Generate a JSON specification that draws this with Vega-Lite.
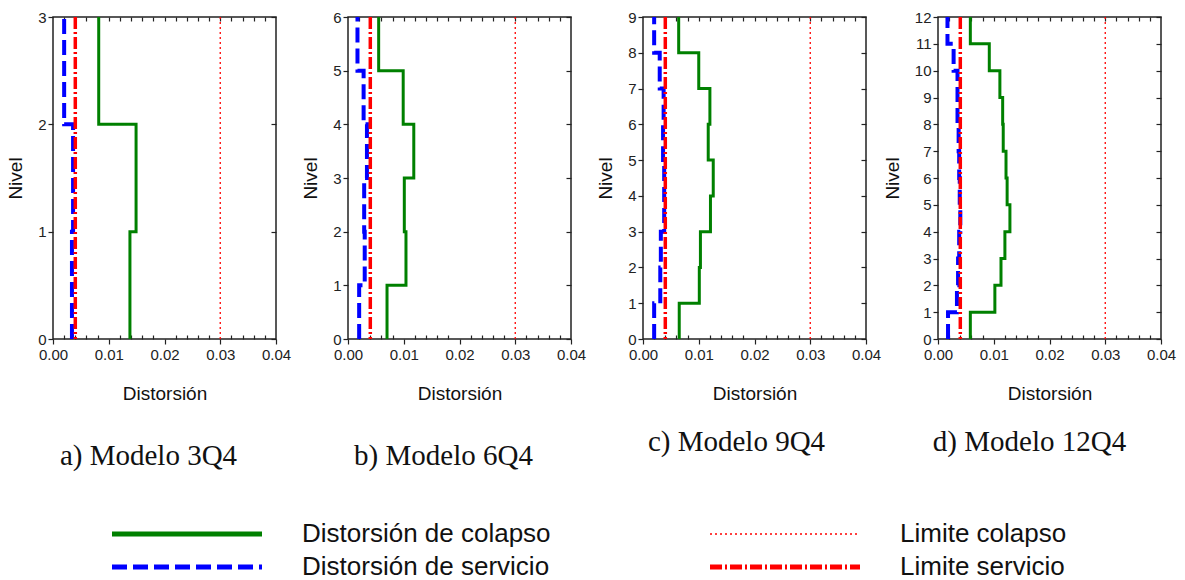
{
  "$schema": "https://vega.github.io/schema/vega-lite/v6.json",
  "background": "white",
  "padding": {"left": 5, "top": 8, "right": 5, "bottom": 5},
  "config": {
    "view": {"stroke": "#222", "strokeWidth": 1.5},
    "scale": {"continuousPadding": 0},
    "axis": {"labelFont": "Liberation Sans", "labelFontSize": 15, "labelColor": "#222", "labelFlush": false, "labelOverlap": false, "titleFont": "Liberation Sans", "titleFontSize": 19, "titleFontWeight": "normal", "titleColor": "#111", "tickColor": "#222", "tickWidth": 1.2, "domain": false, "grid": false},
    "title": {"font": "Liberation Serif", "fontSize": 29, "fontWeight": "normal", "color": "#111"},
    "legend": {"title": null, "columns": 2, "columnPadding": 159, "rowPadding": 3, "clipHeight": 30, "symbolType": "stroke", "symbolSize": 22500, "symbolOffset": 62, "labelFont": "Liberation Sans", "labelFontSize": 26, "labelColor": "#111", "labelOffset": 102, "labelLimit": 500}
  },
  "datasets": {
    "m3": [
      {"serie": "Distorsión de colapso", "nivel": 0, "drift": 0.0138},
      {"serie": "Distorsión de colapso", "nivel": 1, "drift": 0.0149},
      {"serie": "Distorsión de colapso", "nivel": 2, "drift": 0.0082},
      {"serie": "Distorsión de colapso", "nivel": 3, "drift": 0.0082},
      {"serie": "Distorsión de servicio", "nivel": 0, "drift": 0.0034},
      {"serie": "Distorsión de servicio", "nivel": 1, "drift": 0.0036},
      {"serie": "Distorsión de servicio", "nivel": 2, "drift": 0.0020},
      {"serie": "Distorsión de servicio", "nivel": 3, "drift": 0.0020}
    ],
    "m6": [
      {"serie": "Distorsión de colapso", "nivel": 0, "drift": 0.0070},
      {"serie": "Distorsión de colapso", "nivel": 1, "drift": 0.0104},
      {"serie": "Distorsión de colapso", "nivel": 2, "drift": 0.0101},
      {"serie": "Distorsión de colapso", "nivel": 3, "drift": 0.0118},
      {"serie": "Distorsión de colapso", "nivel": 4, "drift": 0.0099},
      {"serie": "Distorsión de colapso", "nivel": 5, "drift": 0.0055},
      {"serie": "Distorsión de colapso", "nivel": 6, "drift": 0.0055},
      {"serie": "Distorsión de servicio", "nivel": 0, "drift": 0.0020},
      {"serie": "Distorsión de servicio", "nivel": 1, "drift": 0.0030},
      {"serie": "Distorsión de servicio", "nivel": 2, "drift": 0.0029},
      {"serie": "Distorsión de servicio", "nivel": 3, "drift": 0.0034},
      {"serie": "Distorsión de servicio", "nivel": 4, "drift": 0.0028},
      {"serie": "Distorsión de servicio", "nivel": 5, "drift": 0.0017},
      {"serie": "Distorsión de servicio", "nivel": 6, "drift": 0.0017}
    ],
    "m9": [
      {"serie": "Distorsión de colapso", "nivel": 0, "drift": 0.0065},
      {"serie": "Distorsión de colapso", "nivel": 1, "drift": 0.0101},
      {"serie": "Distorsión de colapso", "nivel": 2, "drift": 0.0103},
      {"serie": "Distorsión de colapso", "nivel": 3, "drift": 0.0121},
      {"serie": "Distorsión de colapso", "nivel": 4, "drift": 0.0126},
      {"serie": "Distorsión de colapso", "nivel": 5, "drift": 0.0117},
      {"serie": "Distorsión de colapso", "nivel": 6, "drift": 0.0120},
      {"serie": "Distorsión de colapso", "nivel": 7, "drift": 0.0100},
      {"serie": "Distorsión de colapso", "nivel": 8, "drift": 0.0064},
      {"serie": "Distorsión de colapso", "nivel": 9, "drift": 0.0064},
      {"serie": "Distorsión de servicio", "nivel": 0, "drift": 0.0020},
      {"serie": "Distorsión de servicio", "nivel": 1, "drift": 0.0031},
      {"serie": "Distorsión de servicio", "nivel": 2, "drift": 0.0032},
      {"serie": "Distorsión de servicio", "nivel": 3, "drift": 0.0038},
      {"serie": "Distorsión de servicio", "nivel": 4, "drift": 0.0038},
      {"serie": "Distorsión de servicio", "nivel": 5, "drift": 0.0036},
      {"serie": "Distorsión de servicio", "nivel": 6, "drift": 0.0037},
      {"serie": "Distorsión de servicio", "nivel": 7, "drift": 0.0030},
      {"serie": "Distorsión de servicio", "nivel": 8, "drift": 0.0020},
      {"serie": "Distorsión de servicio", "nivel": 9, "drift": 0.0020}
    ],
    "m12": [
      {"serie": "Distorsión de colapso", "nivel": 0, "drift": 0.0058},
      {"serie": "Distorsión de colapso", "nivel": 1, "drift": 0.0102},
      {"serie": "Distorsión de colapso", "nivel": 2, "drift": 0.0113},
      {"serie": "Distorsión de colapso", "nivel": 3, "drift": 0.0120},
      {"serie": "Distorsión de colapso", "nivel": 4, "drift": 0.0129},
      {"serie": "Distorsión de colapso", "nivel": 5, "drift": 0.0124},
      {"serie": "Distorsión de colapso", "nivel": 6, "drift": 0.0122},
      {"serie": "Distorsión de colapso", "nivel": 7, "drift": 0.0117},
      {"serie": "Distorsión de colapso", "nivel": 8, "drift": 0.0116},
      {"serie": "Distorsión de colapso", "nivel": 9, "drift": 0.0111},
      {"serie": "Distorsión de colapso", "nivel": 10, "drift": 0.0092},
      {"serie": "Distorsión de colapso", "nivel": 11, "drift": 0.0058},
      {"serie": "Distorsión de colapso", "nivel": 12, "drift": 0.0058},
      {"serie": "Distorsión de servicio", "nivel": 0, "drift": 0.0018},
      {"serie": "Distorsión de servicio", "nivel": 1, "drift": 0.0034},
      {"serie": "Distorsión de servicio", "nivel": 2, "drift": 0.0036},
      {"serie": "Distorsión de servicio", "nivel": 3, "drift": 0.0038},
      {"serie": "Distorsión de servicio", "nivel": 4, "drift": 0.0040},
      {"serie": "Distorsión de servicio", "nivel": 5, "drift": 0.0039},
      {"serie": "Distorsión de servicio", "nivel": 6, "drift": 0.0038},
      {"serie": "Distorsión de servicio", "nivel": 7, "drift": 0.0037},
      {"serie": "Distorsión de servicio", "nivel": 8, "drift": 0.0035},
      {"serie": "Distorsión de servicio", "nivel": 9, "drift": 0.0035},
      {"serie": "Distorsión de servicio", "nivel": 10, "drift": 0.0028},
      {"serie": "Distorsión de servicio", "nivel": 11, "drift": 0.0017},
      {"serie": "Distorsión de servicio", "nivel": 12, "drift": 0.0017}
    ],
    "limites": [
      {"serie": "Limite colapso", "drift": 0.03},
      {"serie": "Limite servicio", "drift": 0.004}
    ]
  },
  "bounds": "flush",
  "spacing": 72,
  "resolve": {"scale": {"x": "independent", "y": "independent", "color": "shared", "strokeDash": "shared"}},
  "hconcat": [
    {
      "width": 223, "height": 322,
      "title": {"text": "a) Modelo 3Q4", "orient": "bottom", "offset": 39, "dx": -16},
      "resolve": {"axis": {"x": "independent", "y": "independent"}},
      "layer": [
        {"data": {"name": "m3"}, "transform": [{"filter": "datum.serie == 'Distorsión de colapso'"}],
         "mark": {"type": "line", "interpolate": "step-before", "strokeWidth": 3},
         "encoding": {
           "x": {"field": "drift", "type": "quantitative", "scale": {"domain": [0, 0.04], "nice": false, "zero": false, "padding": 0}, "axis": {"orient": "bottom", "values": [0, 0.01, 0.02, 0.03, 0.04], "format": ".2f", "title": "Distorsión", "tickSize": 5, "labelPadding": 3, "titlePadding": 22}},
           "y": {"field": "nivel", "type": "quantitative", "scale": {"domain": [0, 3], "nice": false, "padding": 0}, "axis": {"orient": "left", "tickCount": 3, "title": "Nivel", "tickSize": 5, "titlePadding": 12}},
           "order": {"field": "nivel"},
           "color": {"field": "serie", "type": "nominal", "scale": {"domain": ["Distorsión de colapso", "Distorsión de servicio", "Limite colapso", "Limite servicio"], "range": ["#008000", "#0000ff", "#ff0000", "#ff0000"]}, "legend": {"orient": "none", "legendX": 59, "legendY": 502, "values": ["Distorsión de colapso", "Distorsión de servicio", "Limite colapso", "Limite servicio"], "encode": {"symbols": {"update": {"strokeWidth": {"signal": "datum.value == 'Limite colapso' ? 1.3 : 5"}}}}}},
           "strokeDash": {"field": "serie", "type": "nominal", "scale": {"domain": ["Distorsión de colapso", "Distorsión de servicio", "Limite colapso", "Limite servicio"], "range": [[1, 0], [15, 6], [2, 3], [12, 3, 2, 3]]}, "legend": {"orient": "none", "legendX": 59, "legendY": 502, "values": ["Distorsión de colapso", "Distorsión de servicio", "Limite colapso", "Limite servicio"], "encode": {"symbols": {"update": {"strokeWidth": {"signal": "datum.value == 'Limite colapso' ? 1.3 : 5"}}}}}}
         }},
        {"data": {"name": "m3"}, "transform": [{"filter": "datum.serie == 'Distorsión de servicio'"}],
         "mark": {"type": "line", "interpolate": "step-before", "strokeWidth": 4},
         "encoding": {
           "x": {"field": "drift", "type": "quantitative", "axis": {"orient": "top", "values": [0.002, 0.004, 0.006, 0.008, 0.01, 0.012, 0.014, 0.016, 0.018, 0.02, 0.022, 0.024, 0.026, 0.028, 0.03, 0.032, 0.034, 0.036, 0.038], "labels": false, "title": null, "tickSize": -4}},
           "y": {"field": "nivel", "type": "quantitative", "axis": {"orient": "right", "tickCount": 3, "labels": false, "title": null, "tickSize": -5}},
           "order": {"field": "nivel"},
           "color": {"field": "serie", "type": "nominal"},
           "strokeDash": {"field": "serie", "type": "nominal"}
         }},
        {"data": {"name": "limites"}, "transform": [{"filter": "datum.serie == 'Limite colapso'"}],
         "mark": {"type": "rule", "strokeWidth": 1.3},
         "encoding": {
           "x": {"field": "drift", "type": "quantitative", "axis": {"orient": "bottom", "values": [0.002, 0.004, 0.006, 0.008, 0.012, 0.014, 0.016, 0.018, 0.022, 0.024, 0.026, 0.028, 0.032, 0.034, 0.036, 0.038], "labels": false, "title": null, "tickSize": -4}},
           "color": {"field": "serie", "type": "nominal"},
           "strokeDash": {"field": "serie", "type": "nominal"}
         }},
        {"data": {"name": "limites"}, "transform": [{"filter": "datum.serie == 'Limite servicio'"}],
         "mark": {"type": "rule", "strokeWidth": 3.5},
         "encoding": {
           "x": {"field": "drift", "type": "quantitative", "axis": null},
           "color": {"field": "serie", "type": "nominal"},
           "strokeDash": {"field": "serie", "type": "nominal"}
         }}
      ]
    },
    {
      "width": 223, "height": 322,
      "title": {"text": "b) Modelo 6Q4", "orient": "bottom", "offset": 39, "dx": -16},
      "resolve": {"axis": {"x": "independent", "y": "independent"}},
      "layer": [
        {"data": {"name": "m6"}, "transform": [{"filter": "datum.serie == 'Distorsión de colapso'"}],
         "mark": {"type": "line", "interpolate": "step-before", "strokeWidth": 3},
         "encoding": {
           "x": {"field": "drift", "type": "quantitative", "scale": {"domain": [0, 0.04], "nice": false, "zero": false, "padding": 0}, "axis": {"orient": "bottom", "values": [0, 0.01, 0.02, 0.03, 0.04], "format": ".2f", "title": "Distorsión", "tickSize": 5, "labelPadding": 3, "titlePadding": 22}},
           "y": {"field": "nivel", "type": "quantitative", "scale": {"domain": [0, 6], "nice": false, "padding": 0}, "axis": {"orient": "left", "tickCount": 6, "title": "Nivel", "tickSize": 5, "titlePadding": 12}},
           "order": {"field": "nivel"},
           "color": {"field": "serie", "type": "nominal"},
           "strokeDash": {"field": "serie", "type": "nominal"}
         }},
        {"data": {"name": "m6"}, "transform": [{"filter": "datum.serie == 'Distorsión de servicio'"}],
         "mark": {"type": "line", "interpolate": "step-before", "strokeWidth": 4},
         "encoding": {
           "x": {"field": "drift", "type": "quantitative", "axis": {"orient": "top", "values": [0.002, 0.004, 0.006, 0.008, 0.01, 0.012, 0.014, 0.016, 0.018, 0.02, 0.022, 0.024, 0.026, 0.028, 0.03, 0.032, 0.034, 0.036, 0.038], "labels": false, "title": null, "tickSize": -4}},
           "y": {"field": "nivel", "type": "quantitative", "axis": {"orient": "right", "tickCount": 6, "labels": false, "title": null, "tickSize": -5}},
           "order": {"field": "nivel"},
           "color": {"field": "serie", "type": "nominal"},
           "strokeDash": {"field": "serie", "type": "nominal"}
         }},
        {"data": {"name": "limites"}, "transform": [{"filter": "datum.serie == 'Limite colapso'"}],
         "mark": {"type": "rule", "strokeWidth": 1.3},
         "encoding": {
           "x": {"field": "drift", "type": "quantitative", "axis": {"orient": "bottom", "values": [0.002, 0.004, 0.006, 0.008, 0.012, 0.014, 0.016, 0.018, 0.022, 0.024, 0.026, 0.028, 0.032, 0.034, 0.036, 0.038], "labels": false, "title": null, "tickSize": -4}},
           "color": {"field": "serie", "type": "nominal"},
           "strokeDash": {"field": "serie", "type": "nominal"}
         }},
        {"data": {"name": "limites"}, "transform": [{"filter": "datum.serie == 'Limite servicio'"}],
         "mark": {"type": "rule", "strokeWidth": 3.5},
         "encoding": {
           "x": {"field": "drift", "type": "quantitative", "axis": null},
           "color": {"field": "serie", "type": "nominal"},
           "strokeDash": {"field": "serie", "type": "nominal"}
         }}
      ]
    },
    {
      "width": 223, "height": 322,
      "title": {"text": "c) Modelo 9Q4", "orient": "bottom", "offset": 25, "dx": -18},
      "resolve": {"axis": {"x": "independent", "y": "independent"}},
      "layer": [
        {"data": {"name": "m9"}, "transform": [{"filter": "datum.serie == 'Distorsión de colapso'"}],
         "mark": {"type": "line", "interpolate": "step-before", "strokeWidth": 3},
         "encoding": {
           "x": {"field": "drift", "type": "quantitative", "scale": {"domain": [0, 0.04], "nice": false, "zero": false, "padding": 0}, "axis": {"orient": "bottom", "values": [0, 0.01, 0.02, 0.03, 0.04], "format": ".2f", "title": "Distorsión", "tickSize": 5, "labelPadding": 3, "titlePadding": 22}},
           "y": {"field": "nivel", "type": "quantitative", "scale": {"domain": [0, 9], "nice": false, "padding": 0}, "axis": {"orient": "left", "tickCount": 9, "title": "Nivel", "tickSize": 5, "titlePadding": 12}},
           "order": {"field": "nivel"},
           "color": {"field": "serie", "type": "nominal"},
           "strokeDash": {"field": "serie", "type": "nominal"}
         }},
        {"data": {"name": "m9"}, "transform": [{"filter": "datum.serie == 'Distorsión de servicio'"}],
         "mark": {"type": "line", "interpolate": "step-before", "strokeWidth": 4},
         "encoding": {
           "x": {"field": "drift", "type": "quantitative", "axis": {"orient": "top", "values": [0.002, 0.004, 0.006, 0.008, 0.01, 0.012, 0.014, 0.016, 0.018, 0.02, 0.022, 0.024, 0.026, 0.028, 0.03, 0.032, 0.034, 0.036, 0.038], "labels": false, "title": null, "tickSize": -4}},
           "y": {"field": "nivel", "type": "quantitative", "axis": {"orient": "right", "tickCount": 9, "labels": false, "title": null, "tickSize": -5}},
           "order": {"field": "nivel"},
           "color": {"field": "serie", "type": "nominal"},
           "strokeDash": {"field": "serie", "type": "nominal"}
         }},
        {"data": {"name": "limites"}, "transform": [{"filter": "datum.serie == 'Limite colapso'"}],
         "mark": {"type": "rule", "strokeWidth": 1.3},
         "encoding": {
           "x": {"field": "drift", "type": "quantitative", "axis": {"orient": "bottom", "values": [0.002, 0.004, 0.006, 0.008, 0.012, 0.014, 0.016, 0.018, 0.022, 0.024, 0.026, 0.028, 0.032, 0.034, 0.036, 0.038], "labels": false, "title": null, "tickSize": -4}},
           "color": {"field": "serie", "type": "nominal"},
           "strokeDash": {"field": "serie", "type": "nominal"}
         }},
        {"data": {"name": "limites"}, "transform": [{"filter": "datum.serie == 'Limite servicio'"}],
         "mark": {"type": "rule", "strokeWidth": 3.5},
         "encoding": {
           "x": {"field": "drift", "type": "quantitative", "axis": null},
           "color": {"field": "serie", "type": "nominal"},
           "strokeDash": {"field": "serie", "type": "nominal"}
         }}
      ]
    },
    {
      "width": 223, "height": 322,
      "title": {"text": "d) Modelo 12Q4", "orient": "bottom", "offset": 25, "dx": -20},
      "resolve": {"axis": {"x": "independent", "y": "independent"}},
      "layer": [
        {"data": {"name": "m12"}, "transform": [{"filter": "datum.serie == 'Distorsión de colapso'"}],
         "mark": {"type": "line", "interpolate": "step-before", "strokeWidth": 3},
         "encoding": {
           "x": {"field": "drift", "type": "quantitative", "scale": {"domain": [0, 0.04], "nice": false, "zero": false, "padding": 0}, "axis": {"orient": "bottom", "values": [0, 0.01, 0.02, 0.03, 0.04], "format": ".2f", "title": "Distorsión", "tickSize": 5, "labelPadding": 3, "titlePadding": 22}},
           "y": {"field": "nivel", "type": "quantitative", "scale": {"domain": [0, 12], "nice": false, "padding": 0}, "axis": {"orient": "left", "tickCount": 12, "title": "Nivel", "tickSize": 5, "titlePadding": 12}},
           "order": {"field": "nivel"},
           "color": {"field": "serie", "type": "nominal"},
           "strokeDash": {"field": "serie", "type": "nominal"}
         }},
        {"data": {"name": "m12"}, "transform": [{"filter": "datum.serie == 'Distorsión de servicio'"}],
         "mark": {"type": "line", "interpolate": "step-before", "strokeWidth": 4},
         "encoding": {
           "x": {"field": "drift", "type": "quantitative", "axis": {"orient": "top", "values": [0.002, 0.004, 0.006, 0.008, 0.01, 0.012, 0.014, 0.016, 0.018, 0.02, 0.022, 0.024, 0.026, 0.028, 0.03, 0.032, 0.034, 0.036, 0.038], "labels": false, "title": null, "tickSize": -4}},
           "y": {"field": "nivel", "type": "quantitative", "axis": {"orient": "right", "tickCount": 12, "labels": false, "title": null, "tickSize": -5}},
           "order": {"field": "nivel"},
           "color": {"field": "serie", "type": "nominal"},
           "strokeDash": {"field": "serie", "type": "nominal"}
         }},
        {"data": {"name": "limites"}, "transform": [{"filter": "datum.serie == 'Limite colapso'"}],
         "mark": {"type": "rule", "strokeWidth": 1.3},
         "encoding": {
           "x": {"field": "drift", "type": "quantitative", "axis": {"orient": "bottom", "values": [0.002, 0.004, 0.006, 0.008, 0.012, 0.014, 0.016, 0.018, 0.022, 0.024, 0.026, 0.028, 0.032, 0.034, 0.036, 0.038], "labels": false, "title": null, "tickSize": -4}},
           "color": {"field": "serie", "type": "nominal"},
           "strokeDash": {"field": "serie", "type": "nominal"}
         }},
        {"data": {"name": "limites"}, "transform": [{"filter": "datum.serie == 'Limite servicio'"}],
         "mark": {"type": "rule", "strokeWidth": 3.5},
         "encoding": {
           "x": {"field": "drift", "type": "quantitative", "axis": null},
           "color": {"field": "serie", "type": "nominal"},
           "strokeDash": {"field": "serie", "type": "nominal"}
         }}
      ]
    }
  ]
}
